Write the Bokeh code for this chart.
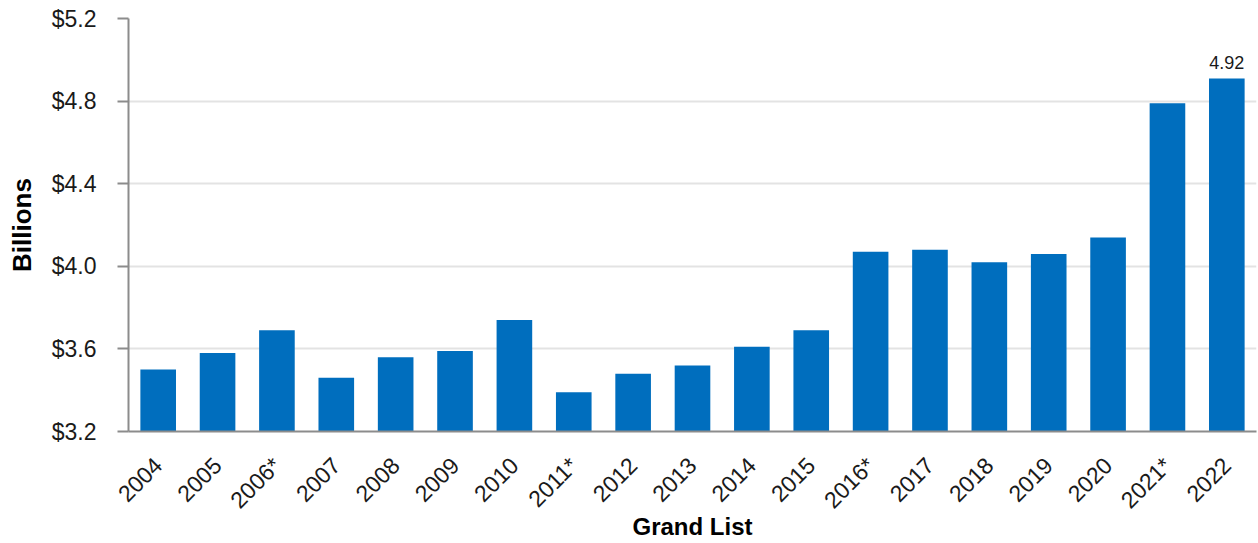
import math
from bokeh.plotting import figure
from bokeh.models import ColumnDataSource, Range1d, FixedTicker, PrintfTickFormatter, LabelSet
from bokeh.core.properties import value
from bokeh.embed import file_html
from bokeh.resources import INLINE

years = ["2004", "2005", "2006*", "2007", "2008", "2009", "2010", "2011*", "2012", "2013",
         "2014", "2015", "2016*", "2017", "2018", "2019", "2020", "2021*", "2022"]
values = [3.50, 3.58, 3.69, 3.46, 3.56, 3.59, 3.74, 3.39, 3.48, 3.52,
          3.61, 3.69, 4.07, 4.08, 4.02, 4.06, 4.14, 4.79, 4.91]
label_years = ["2022"]
label_texts = ["4.92"]
y_ticks = [3.2, 3.6, 4.0, 4.4, 4.8, 5.2]

FONT = "Liberation Sans"
BAR = "#006EBE"

p = figure(x_range=years, y_range=Range1d(3.2, 5.2), width=1258, height=543,
           output_backend="svg", toolbar_location=None,
           min_border_left=128, min_border_right=2, min_border_top=18, min_border_bottom=111)
p.outline_line_color = None
p.background_fill_color = "white"
p.border_fill_color = "white"

src = ColumnDataSource(dict(x=years, top=values))
p.vbar(x="x", top="top", bottom=3.2, width=0.6, source=src, fill_color=BAR, line_color=None)

lsrc = ColumnDataSource(dict(x=label_years, y=[values[years.index(v)] for v in label_years], t=label_texts))
p.add_layout(LabelSet(x="x", y="y", text="t", source=lsrc, text_align="center", text_baseline="bottom",
                      y_offset=9, text_font=value(FONT), text_font_size=value("18px"),
                      text_color="#1a1a1a"))

# grid
p.xgrid.grid_line_color = None
p.ygrid.ticker = FixedTicker(ticks=y_ticks)
p.ygrid.grid_line_color = "#e3e3e3"
p.ygrid.grid_line_width = 2

# y axis
ya = p.yaxis[0]
ya.ticker = FixedTicker(ticks=y_ticks)
ya.formatter = PrintfTickFormatter(format="$%.1f")
ya.axis_line_color = "#8c8c8c"
ya.axis_line_width = 2
ya.major_tick_line_color = "#8c8c8c"
ya.major_tick_line_width = 2
ya.major_tick_out = 11
ya.major_tick_in = 0
ya.minor_tick_line_color = None
ya.major_label_standoff = 21
ya.major_label_text_font = FONT
ya.major_label_text_font_size = "23px"
ya.major_label_text_color = "#1a1a1a"
ya.axis_label = "Billions"
ya.axis_label_text_font = FONT
ya.axis_label_text_font_size = "26px"
ya.axis_label_text_font_style = "bold"
ya.axis_label_text_color = "#000000"
ya.axis_label_standoff = 12

# x axis
xa = p.xaxis[0]
xa.axis_line_color = "#8c8c8c"
xa.axis_line_width = 2
xa.major_tick_line_color = None
xa.minor_tick_line_color = None
xa.major_label_orientation = math.pi / 4
xa.major_label_standoff = 24
xa.major_label_text_font = FONT
xa.major_label_text_font_size = "23px"
xa.major_label_text_color = "#1a1a1a"
xa.axis_label = "Grand List"
xa.axis_label_text_font = FONT
xa.axis_label_text_font_size = "24px"
xa.axis_label_text_font_style = "bold"
xa.axis_label_text_color = "#000000"
xa.axis_label_standoff = -12

open("out.html", "w").write(file_html(p, INLINE))
